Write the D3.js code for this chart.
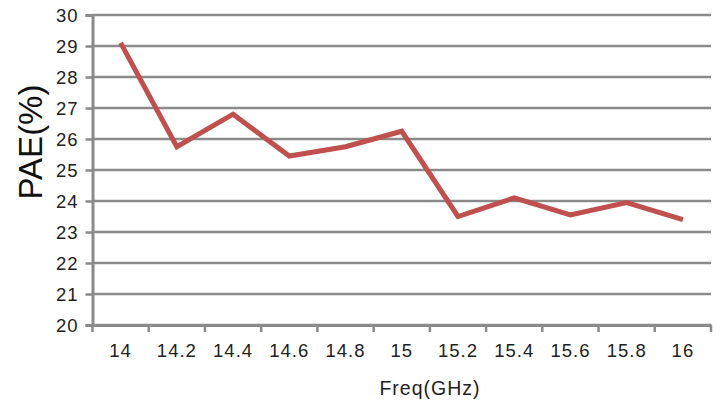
<!DOCTYPE html>
<html>
<head>
<meta charset="utf-8">
<script src="https://cdn.jsdelivr.net/npm/d3@7"></script>
<style>
  body { margin: 0; background: #fff; }
  svg { display: block; }
  .tick text { font-family: "Liberation Sans", Arial, sans-serif; fill: #222; }
</style>
</head>
<body>
<script>
// data
var freqs = ["14", "14.2", "14.4", "14.6", "14.8", "15", "15.2", "15.4", "15.6", "15.8", "16"];
var pae = [29.1, 25.75, 26.8, 25.45, 25.75, 26.25, 23.5, 24.1, 23.55, 23.95, 23.4];
var yTicks = [20, 21, 22, 23, 24, 25, 26, 27, 28, 29, 30];

var width = 719, height = 405,
    plotLeft = 92.5, plotRight = 711, plotTop = 15, plotBottom = 325;

var svg = d3.select("body").append("svg")
    .attr("width", width)
    .attr("height", height);

var x = d3.scaleBand().domain(freqs).range([plotLeft, plotRight]);
var y = d3.scaleLinear().domain([20, 30]).range([plotBottom, plotTop]);

// gridlines
svg.append("g")
  .selectAll("line")
  .data(yTicks)
  .enter().append("line")
    .attr("x1", plotLeft)
    .attr("x2", plotRight)
    .attr("y1", function(d) { return y(d); })
    .attr("y2", function(d) { return y(d); })
    .attr("stroke", "#8a8a8a")
    .attr("stroke-width", 2.5);

// y axis
var yAxis = svg.append("g")
    .attr("transform", "translate(" + plotLeft + ",0)")
    .call(d3.axisLeft(y).tickValues(yTicks).tickSize(7).tickPadding(7));
yAxis.select(".domain").attr("stroke", "#8a8a8a").attr("stroke-width", 3);
yAxis.selectAll(".tick line").attr("stroke", "#8a8a8a").attr("stroke-width", 2.5);
yAxis.selectAll(".tick text")
    .style("font-size", "18.5px")
    .style("letter-spacing", "1px")
    .attr("dy", "0.35em");

// x axis, ticks between categories
var xAxis = svg.append("g")
    .attr("transform", "translate(0," + plotBottom + ")")
    .call(d3.axisBottom(x).tickSize(0).tickPadding(19));
xAxis.select(".domain").attr("stroke", "#8a8a8a").attr("stroke-width", 3);
xAxis.selectAll(".tick text")
    .style("font-size", "18.5px")
    .style("letter-spacing", "1px");

var edges = freqs.map(function(d) { return x(d); }).concat([plotRight]);
svg.append("g")
  .selectAll("line")
  .data(edges)
  .enter().append("line")
    .attr("x1", function(d) { return d; })
    .attr("x2", function(d) { return d; })
    .attr("y1", plotBottom)
    .attr("y2", plotBottom + 7)
    .attr("stroke", "#8a8a8a")
    .attr("stroke-width", 2.5);

// series line
var line = d3.line()
    .x(function(d, i) { return x(freqs[i]) + x.bandwidth() / 2; })
    .y(function(d) { return y(d); });

svg.append("path")
    .datum(pae)
    .attr("d", line)
    .attr("fill", "none")
    .attr("stroke", "#c0504d")
    .attr("stroke-width", 5)
    .attr("stroke-linejoin", "miter");

// axis titles
svg.append("text")
    .attr("transform", "translate(42,142) rotate(-90)")
    .attr("text-anchor", "middle")
    .style("font-family", "'Liberation Sans', Arial, sans-serif")
    .style("font-size", "33px")
    .style("fill", "#111")
    .text("PAE(%)");

svg.append("text")
    .attr("x", 430)
    .attr("y", 395)
    .attr("text-anchor", "middle")
    .style("font-family", "'Liberation Sans', Arial, sans-serif")
    .style("font-size", "19.5px")
    .style("letter-spacing", "1px")
    .style("fill", "#222")
    .text("Freq(GHz)");
</script>
</body>
</html>
